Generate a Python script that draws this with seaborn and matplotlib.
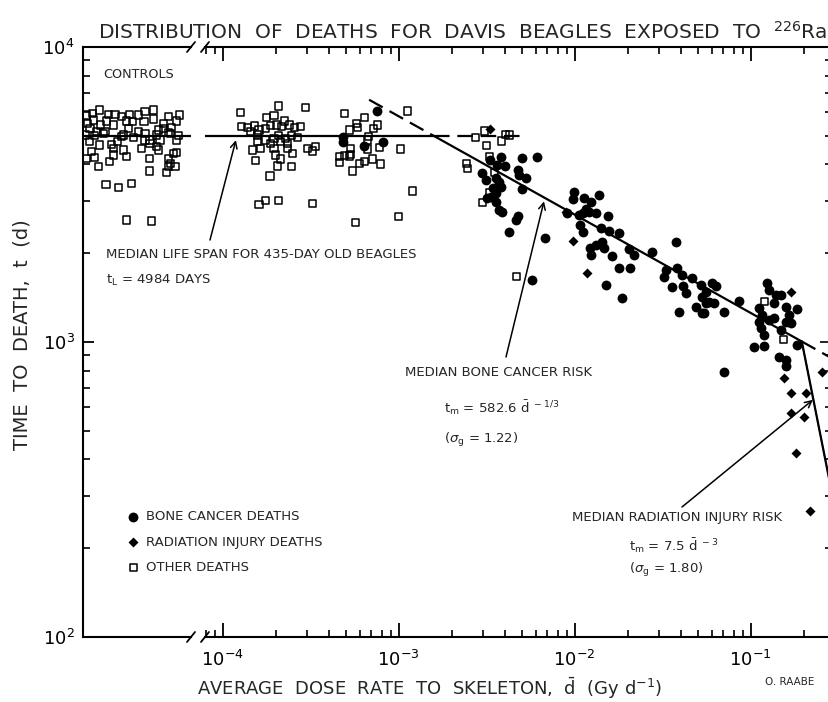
import numpy as np
import pandas as pd
import seaborn as sns
import matplotlib.pyplot as plt
from matplotlib.ticker import LogLocator, NullFormatter

# ---------------- data ----------------
# controls: no dose, only a horizontal spread inside the control panel (0..1)
control_jitter = [0.034, 0.09, 0.157, 0.235, 0.296, 0.358, 0.429, 0.512, 0.574, 0.657, 0.79, 0.892,
                  0.04, 0.096, 0.164, 0.219, 0.281, 0.404, 0.46, 0.565, 0.651, 0.744, 0.867,
                  0.065, 0.127, 0.204, 0.42, 0.512, 0.698, 0.744, 0.821, 0.79,
                  0.02, 0.11, 0.188, 0.373, 0.466, 0.574, 0.682, 0.806, 0.883, 0.358,
                  0.059, 0.157, 0.265, 0.318, 0.574, 0.62, 0.713, 0.867, 0.281, 0.543, 0.682, 0.62, 0.698,
                  0.08, 0.373, 0.034, 0.11, 0.281, 0.404, 0.614, 0.79, 0.836, 0.867,
                  0.142, 0.244, 0.806, 0.852, 0.79, 0.614, 0.775,
                  0.213, 0.327, 0.451, 0.404, 0.636]
control_time = [5882, 5960, 6116, 5913, 5913, 5806, 5913, 5882, 6037, 6116, 5806, 5882,
                5511, 5657, 5439, 5614, 5439, 5614, 5585, 5585, 5701, 5511, 5614,
                5300, 5164, 5164, 5300, 5164, 5232, 5300, 5328, 5138,
                5032, 5006, 5098, 5032, 4928, 5098, 5032, 5098, 5006, 4967,
                4777, 4654, 4678, 4777, 4840, 4840, 4840, 4840, 4534, 4534, 4594, 4715, 4476,
                4418, 4476, 4194, 4216, 4305, 4249, 4194, 4194, 4361, 4395,
                3929, 4086, 4033, 3929, 3929, 3798, 3759,
                3424, 3336, 3451, 2592, 2572]

# other deaths in exposed dogs: dose rate (Gy/d), time to death (d)
other_dose = [1.26e-4, 2.09e-4, 2.97e-4, 4.94e-4, 1.13e-3, 1.77e-4, 1.96e-4, 2.25e-4, 6.37e-4, 7.58e-4,
              5.78e-4, 1.28e-4, 1.38e-4, 1.51e-4, 1.61e-4, 1.76e-4, 1.88e-4, 2.03e-4, 2.16e-4, 2.39e-4,
              2.55e-4, 2.78e-4, 1.44e-4, 5.83e-4, 5.23e-4, 7.19e-4, 1.58e-4, 1.76e-4, 2.07e-4, 2.28e-4,
              2.46e-4, 2.66e-4, 1.96e-4, 6.74e-4, 6.65e-4, 1.58e-4, 1.88e-4, 2.14e-4, 2.33e-4, 1.48e-4,
              1.65e-4, 1.96e-4, 2.33e-4, 2.49e-4, 2.00e-4, 3.03e-4, 3.24e-4, 3.39e-4, 5.35e-4, 6.65e-4,
              7.75e-4, 1.02e-3, 1.54e-4, 2.14e-4, 2.46e-4, 2.05e-4, 4.60e-4, 4.90e-4, 5.23e-4, 5.35e-4,
              4.60e-4, 5.97e-4, 6.37e-4, 7.10e-4, 7.92e-4, 5.47e-4, 1.86e-4, 1.61e-4, 1.76e-4, 2.07e-4,
              3.24e-4, 1.20e-3, 5.71e-4, 9.93e-4,
              3.06e-3, 2.72e-3, 3.17e-3, 3.86e-3, 4.03e-3, 4.25e-3, 2.43e-3, 2.46e-3, 3.30e-3, 3.49e-3,
              3.27e-3, 2.99e-3, 4.67e-3, 0.1193, 0.1537]
other_time = [6006, 6310, 6229, 5960, 6069, 5762, 5852, 5614, 5762, 5439,
              5511, 5370, 5342, 5397, 5232, 5300, 5411, 5439, 5370, 5439,
              5328, 5370, 5164, 5342, 5232, 5300, 5032, 4840, 5006, 4902,
              5006, 4928, 4902, 4967, 4840, 4777, 4715, 4777, 4715, 4476,
              4534, 4534, 4534, 4361, 4305, 4534, 4441, 4594, 4534, 4511,
              4559, 4511, 4118, 4172, 3929, 3950, 4249, 4283, 4271, 4327,
              4054, 4033, 4086, 4172, 4012, 3798, 3653, 2929, 3021, 3021,
              2944, 3250, 2545, 2660,
              5191, 4928, 4630, 4801, 5058, 5031, 4034, 3879, 4249, 3759,
              3217, 2975, 1670, 1370, 1021]

# bone cancer deaths
cancer_dose = [4.86e-4, 4.86e-4, 6.37e-4, 8.17e-4, 7.58e-4,
               3.81e-3, 5.05e-3, 6.15e-3, 3.30e-3, 3.64e-3, 4.03e-3, 2.99e-3, 3.13e-3, 3.56e-3, 3.72e-3,
               3.81e-3, 3.44e-3, 3.60e-3, 3.34e-3, 3.20e-3, 3.60e-3, 3.72e-3, 3.89e-3, 4.80e-3, 4.84e-3,
               5.32e-3, 5.05e-3, 4.80e-3, 4.67e-3, 4.25e-3, 6.80e-3, 5.76e-3, 9.10e-3,
               9.94e-3, 9.80e-3, 1.13e-2, 1.24e-2, 1.37e-2, 1.16e-2, 1.11e-2, 1.06e-2, 1.20e-2, 1.33e-2,
               1.54e-2, 1.07e-2, 1.12e-2, 1.41e-2, 1.57e-2, 1.79e-2, 1.44e-2, 1.32e-2, 1.22e-2, 1.24e-2,
               1.47e-2, 1.64e-2, 2.04e-2, 2.18e-2, 2.74e-2, 3.76e-2, 1.79e-2, 2.06e-2, 1.50e-2, 1.87e-2,
               3.30e-2, 3.23e-2, 3.60e-2, 3.84e-2, 4.06e-2, 4.63e-2, 4.14e-2, 4.28e-2, 3.93e-2, 5.21e-2,
               5.33e-2, 4.88e-2, 5.33e-2, 5.56e-2,
               6.07e-2, 6.34e-2, 5.56e-2, 5.81e-2, 6.20e-2, 5.44e-2, 7.07e-2, 8.60e-2, 0.1246, 0.1274,
               0.1402, 0.1484, 0.136, 0.1117, 0.1168, 0.1274, 0.1117, 0.136, 0.1584, 0.1845,
               0.1655, 0.1584, 0.1691, 0.1142, 0.1193, 0.1484, 0.1047, 0.1193, 0.1845, 0.1452,
               0.1584, 0.1584, 7.07e-2]
cancer_time = [4967, 4777, 4629, 4753, 6069,
               4227, 4194, 4249, 4140, 3981, 3960, 3730, 3541, 3587, 3495,
               3362, 3319, 3192, 3110, 3069, 2975, 2803, 2751, 3828, 3681,
               3587, 3302, 2682, 2592, 2354, 2258, 1623, 2745,
               3233, 3045, 3069, 2990, 3150, 2817, 2730, 2695, 2765, 2730,
               2674, 2493, 2366, 2428, 2384, 2335, 2188, 2132, 2078, 1972,
               2078, 1957, 2062, 1972, 2024, 2188, 1777, 1777, 1561, 1413,
               1754, 1665, 1540, 1777, 1687, 1652, 1548, 1462, 1267, 1561,
               1424, 1317, 1251, 1352,
               1589, 1548, 1482, 1370, 1352, 1251, 1268, 1381, 1589, 1501,
               1443, 1443, 1352, 1301, 1235, 1188, 1172, 1203, 1318, 1291,
               1235, 1172, 1157, 1113, 1056, 1098, 959, 969, 977, 887,
               869, 829, 793]

# radiation injury deaths
injury_dose = [3.30e-3, 8.92e-3, 9.80e-3, 1.17e-2, 0.1691, 0.256, 0.155, 0.1691, 0.2058,
               0.1691, 0.2014, 0.1806, 0.217]
injury_time = [5272, 2765, 2205, 1718, 1482, 793, 753, 670, 670, 573, 555, 421, 268]

# fitted medians
median_life = 4984           # t_L, days
cancer_coef, cancer_exp = 582.6, -1 / 3
injury_coef, injury_exp = 7.5, -3.0
cancer_dash_start = 6.8e-4   # where the dashed extension of the cancer line starts
median_dash_end = 5.1e-3     # where the dashed median line stops
injury_top_time = 1500       # top of the thin part of the injury line

# ---------------- figure ----------------
sns.set_style("ticks", {"axes.edgecolor": "black", "xtick.color": "black", "ytick.color": "black"})
plt.rcParams['font.family'] = ['DejaVu Sans']
plt.rcParams['mathtext.fontset'] = 'dejavusans'

W, H = 829, 702
fig = plt.figure(figsize=(W / 100, H / 100), dpi=100)
fig.patch.set_facecolor('white')


def fx(x):
    return x / W


def fy(y):
    return 1 - y / H


top, bottom = 47, 637
ax_c = fig.add_axes([fx(83), fy(bottom), fx(191) - fx(83), fy(top) - fy(bottom)])
ax = fig.add_axes([fx(205), fy(bottom), fx(831) - fx(205), fy(top) - fy(bottom)])
ax.patch.set_alpha(0)

xmin, xmax = 10 ** -4.1, 10 ** -0.543
for a in (ax_c, ax):
    a.set_yscale('log')
    a.set_ylim(100, 10000)
ax.set_xscale('log')
ax.set_xlim(xmin, xmax)
ax_c.set_xlim(0, 1)

# scatter
ctrl = pd.DataFrame({"x": control_jitter, "t": control_time})
oth = pd.DataFrame({"dose": other_dose, "t": other_time})
can = pd.DataFrame({"dose": cancer_dose, "t": cancer_time})
inj = pd.DataFrame({"dose": injury_dose, "t": injury_time})

sq = dict(marker='s', s=26, fc='none', ec='black', linewidth=1.1)
sns.scatterplot(data=ctrl, x="x", y="t", ax=ax_c, legend=False, **sq)
sns.scatterplot(data=oth, x="dose", y="t", ax=ax, **sq, label="OTHER DEATHS")
sns.scatterplot(data=can, x="dose", y="t", ax=ax, marker='o', s=50, color='black',
                edgecolor='black', linewidth=0, label="BONE CANCER DEATHS")
sns.scatterplot(data=inj, x="dose", y="t", ax=ax, marker='D', s=26, color='black',
                edgecolor='black', linewidth=0, label="RADIATION INJURY DEATHS")
h, l = ax.get_legend_handles_labels()
ax.get_legend().remove()

# fitted lines
d1 = (median_life / cancer_coef) ** (1 / cancer_exp)                    # median meets cancer line
d2 = (injury_coef / cancer_coef) ** (1 / (cancer_exp - injury_exp))     # cancer meets injury line
dbot = (injury_coef / 100) ** (1 / injury_exp)
dtop = (injury_coef / injury_top_time) ** (1 / injury_exp)


def cancer(d):
    return cancer_coef * np.asarray(d) ** cancer_exp


def injury(d):
    return injury_coef * np.asarray(d) ** injury_exp


lw = 1.6
dash = (0, (7, 3.5))
ax_c.axhline(median_life, color='black', lw=lw)
ax.plot([xmin, d1], [median_life, median_life], color='black', lw=lw)
ax.plot([d1, median_dash_end], [median_life, median_life], color='black', lw=lw, ls=dash)
ax.plot([cancer_dash_start, d1], cancer([cancer_dash_start, d1]), color='black', lw=lw, ls=dash)
ax.plot([d1, d2], cancer([d1, d2]), color='black', lw=lw)
ax.plot([d2, xmax], cancer([d2, xmax]), color='black', lw=lw, ls=dash)
ax.plot([dtop, d2], injury([dtop, d2]), color='black', lw=0.9)
ax.plot([d2, dbot], injury([d2, dbot]), color='black', lw=lw)

# spines and ticks
for a in (ax_c, ax):
    for s in a.spines.values():
        s.set_linewidth(1.5)
ax_c.spines['right'].set_visible(False)
ax.spines['left'].set_visible(False)

ax_c.set_xticks([])
ax_c.set_yticks([100, 1000, 10000])
ax_c.yaxis.set_minor_locator(LogLocator(base=10, subs=np.arange(2, 10)))
ax_c.yaxis.set_minor_formatter(NullFormatter())
ax_c.tick_params(axis='y', which='major', direction='in', length=8, width=1.3, labelsize=13, pad=6)
ax_c.tick_params(axis='y', which='minor', direction='in', length=5, width=1.2)

ax.set_xticks([1e-4, 1e-3, 1e-2, 1e-1])
ax.xaxis.set_minor_locator(LogLocator(base=10, subs=np.arange(2, 10)))
ax.xaxis.set_minor_formatter(NullFormatter())
ax.yaxis.set_minor_locator(LogLocator(base=10, subs=np.arange(2, 10)))
ax.yaxis.set_minor_formatter(NullFormatter())
ax.tick_params(axis='x', which='major', direction='in', length=10, width=1.3, top=True,
               labelsize=13, pad=9)
ax.tick_params(axis='x', which='minor', direction='in', length=5, width=1.2, top=True)
ax.tick_params(axis='y', which='both', direction='in', left=False, right=True, labelleft=False,
               width=1.2)
ax.tick_params(axis='y', which='major', length=8)
ax.tick_params(axis='y', which='minor', length=4)
for a in (ax_c, ax):
    a.set_xlabel("")
    a.set_ylabel("")

# axis break marks
for a, xb in ((ax_c, 1.0), (ax, 0.0)):
    dx = 4 / a.bbox.width
    dy = 5 / a.bbox.height
    for yb in (0.0, 1.0):
        a.plot([xb - dx, xb + dx], [yb - dy, yb + dy], transform=a.transAxes, color='black',
               lw=1.3, clip_on=False)

# legend
order = [1, 2, 0]
fig.legend([h[i] for i in order], [l[i] for i in order], loc='upper left',
           bbox_to_anchor=(fx(128), fy(510)), frameon=False, handlelength=0.8,
           handletextpad=0.6, labelspacing=0.95, borderaxespad=0, borderpad=0,
           prop={'size': 9.5})

# texts
fs = 9.5
fig.text(fx(98), fy(32),
         r"DISTRIBUTION  OF  DEATHS  FOR  DAVIS  BEAGLES  EXPOSED  TO  $^{226}$Ra",
         fontsize=14.5, va='center', ha='left')
fig.text(fx(22), fy(335), "TIME  TO  DEATH,  t  (d)", rotation=90, fontsize=14,
         ha='center', va='center')
fig.text(fx(430), fy(688), r"AVERAGE  DOSE  RATE  TO  SKELETON,  $\bar{\mathregular{d}}$  (Gy d$^{-1}$)",
         fontsize=13, ha='center', va='center')
fig.text(fx(765), fy(682), "O. RAABE", fontsize=7.5, va='center')
fig.text(fx(103), fy(75), "CONTROLS", fontsize=9.2, va='center')

fig.text(fx(106), fy(254), "MEDIAN LIFE SPAN FOR 435-DAY OLD BEAGLES", fontsize=fs, va='center')
fig.text(fx(106), fy(280), r"t$_\mathregular{L}$ = 4984 DAYS", fontsize=fs, va='center')
fig.text(fx(405), fy(373), "MEDIAN BONE CANCER RISK", fontsize=fs, va='center')
fig.text(fx(444), fy(408), r"t$_\mathregular{m}$ = 582.6 $\bar{\mathregular{d}}^{\ -1/3}$", fontsize=fs,
         va='center')
fig.text(fx(444), fy(440), r"($\sigma_\mathregular{g}$ = 1.22)", fontsize=fs, va='center')
fig.text(fx(572), fy(518), "MEDIAN RADIATION INJURY RISK", fontsize=fs, va='center')
fig.text(fx(629), fy(546), r"t$_\mathregular{m}$ = 7.5 $\bar{\mathregular{d}}^{\ -3}$", fontsize=fs,
         va='center')
fig.text(fx(629), fy(570), r"($\sigma_\mathregular{g}$ = 1.80)", fontsize=fs, va='center')

# arrows
arw = dict(arrowstyle='->', color='black', lw=1.1, shrinkA=0, shrinkB=0, mutation_scale=12)
ax.annotate("", xy=(1.19e-4, median_life * 0.97), xytext=(210, H - 240),
            textcoords='figure pixels', arrowprops=arw)
ax.annotate("", xy=(6.7e-3, cancer(6.7e-3) * 0.97), xytext=(506, H - 357),
            textcoords='figure pixels', arrowprops=arw)
ax.annotate("", xy=(0.226, injury(0.226) * 0.98), xytext=(682, H - 507),
            textcoords='figure pixels', arrowprops=arw)

fig.savefig("out.png", dpi=100)
